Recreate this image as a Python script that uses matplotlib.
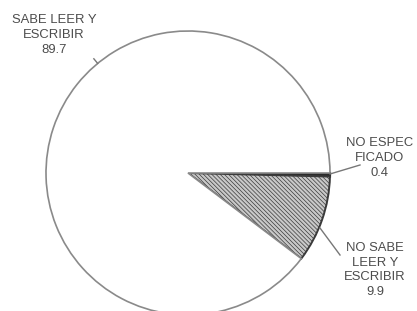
import numpy as np
from matplotlib import pyplot as plt

labels = ["NO ESPEC\nFICADO", "NO SABE\nLEER Y\nESCRIBIR", "SABE LEER Y\nESCRIBIR"]
values = [0.4, 9.9, 89.7]

W, H = 417, 311
cx, cy, r = 188, H - 173, 142

plt.rcParams["hatch.color"] = "#7a7a7a"
plt.rcParams["hatch.linewidth"] = 0.5

fig = plt.figure(figsize=(W / 100, H / 100), dpi=100)
ax = fig.add_axes([0, 0, 1, 1])

wedges, _ = ax.pie(values, startangle=0, counterclock=False, center=(cx, cy),
                   radius=r, colors=["#2a2a2a", "#c8c8c8", "white"],
                   wedgeprops=dict(linewidth=1.2, edgecolor="#8a8a8a"))
wedges[1].set_hatch("\\\\\\\\\\\\\\\\")
wedges[1].set_edgecolor("#3a3a3a")
wedges[1].set_linewidth(1.4)
wedges[0].set_edgecolor("#2a2a2a")
wedges[0].set_linewidth(1.6)

ax.set_xlim(0, W)
ax.set_ylim(0, H)
ax.set_aspect("equal")
ax.axis("off")

txt = dict(ha="center", va="center", color="#4c4c4c", fontsize=9.4,
           family=["Liberation Sans", "DejaVu Sans"], linespacing=1.28)

def P(x, y):
    return x, H - y

ax.text(*P(54, 35), labels[2] + "\n" + f"{values[2]}", **txt)
ax.text(*P(380, 158), labels[0] + "\n" + f"{values[0]}", **txt)
ax.text(*P(375, 270), labels[1] + "\n" + f"{values[1]}", **txt)

# leader lines
ax.plot(*zip(P(330, 174), P(360, 165)), color="#777777", lw=1)
ax.plot(*zip(P(320, 228), P(340, 255)), color="#777777", lw=1)
a = np.deg2rad(129.5)
ax.plot([cx + r * np.cos(a), cx + (r + 6) * np.cos(a)],
        [cy + r * np.sin(a), cy + (r + 6) * np.sin(a)], color="#777777", lw=1)

fig.savefig("out.png", dpi=100)
